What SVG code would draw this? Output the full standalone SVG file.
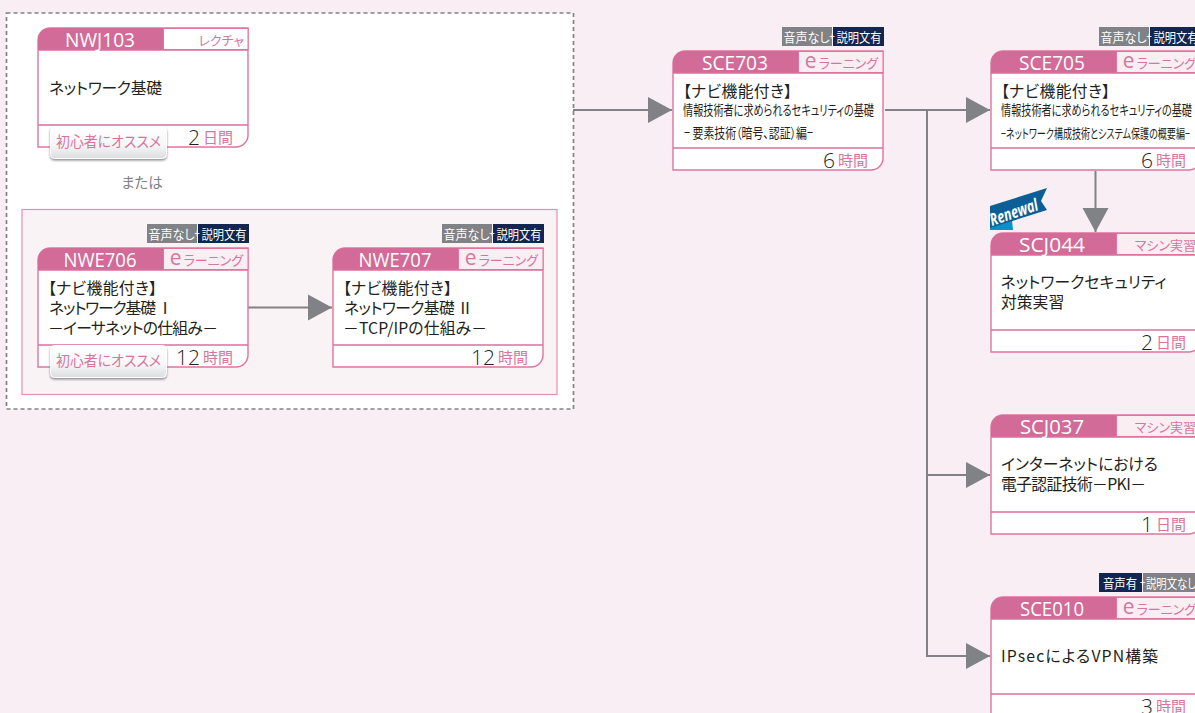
<svg xmlns="http://www.w3.org/2000/svg" width="1195" height="713" viewBox="0 0 1195 713">
<style>
text{font-family:"Noto Sans CJK JP","Noto Sans",sans-serif;font-feature-settings:"palt";font-weight:400}
.frame{fill:#fff;stroke:#e0749f;stroke-width:1.4}
.head{fill:#d26b97}
.ty{fill:#faeef3;stroke:#e0749f;stroke-width:1}
.ln{stroke:#de6f9e;stroke-width:1.3;fill:none}
.code{fill:#fff;font-size:20px;font-weight:400;text-anchor:middle;font-family:"Open Sans","Noto Sans",sans-serif}
.type{fill:#d9739f;font-size:13px;text-anchor:end}
.e{font-size:21px;font-weight:400;font-family:"Open Sans",sans-serif}
.b{fill:#231f20;font-size:15.800px}
.s{font-size:14px}
.h{fill:#d9739f;font-size:15px;text-anchor:end}
.n{fill:#231f20;font-size:21px;font-weight:300;text-anchor:end;font-family:"Open Sans",sans-serif}
.tg{fill:#808285}.td{fill:#12264f}
.tt{fill:#fff;font-size:13px;text-anchor:middle}
.pl{fill:#fff;font-size:10px;text-anchor:middle}
.conn{stroke:#808285;stroke-width:2;fill:none}
.bdg{fill:#d9739f;font-size:14.500px;text-anchor:middle}
</style>
<defs>
<marker id="ah" markerUnits="userSpaceOnUse" markerWidth="26" markerHeight="28" refX="25" refY="14" orient="auto"><path d="M1 1 L25 14 L1 27 Z" fill="#808285"/></marker>
<linearGradient id="bg" x1="0" y1="0" x2="0" y2="1"><stop offset="0" stop-color="#fff"/><stop offset=".6" stop-color="#f6f6f7"/><stop offset="1" stop-color="#dcdde0"/></linearGradient>
<filter id="sh" x="-10%" y="-10%" width="120%" height="130%"><feDropShadow dx="0" dy="1.500" stdDeviation=".8" flood-color="#77787b" flood-opacity=".85"/></filter>
<g id="frame">
<path class="frame" d="M0 119V12A12 12 0 0 1 12 0H210V107A12 12 0 0 1 198 119Z"/>
<path class="head" d="M0 22V12A12 12 0 0 1 12 0H125V22Z"/>
<path class="ln" d="M0 22H210M0 97H210"/>
</g>
<g id="badge"><rect x=".5" y=".5" width="116" height="32" rx="4" fill="url(#bg)" stroke="#fff" filter="url(#sh)"/><text class="bdg" x="58.500" y="21" textLength="105" lengthAdjust="spacingAndGlyphs">初心者にオススメ</text></g>
<g id="t1"><rect class="tg" x="0" y="0" width="50" height="19"/><rect class="td" x="51" y="0" width="51" height="19"/><text class="tt" x="24.500" y="14.500" textLength="46" lengthAdjust="spacingAndGlyphs">音声なし</text><text class="pl" x="50" y="13">+</text><text class="tt" x="77" y="14.500" textLength="45" lengthAdjust="spacingAndGlyphs">説明文有</text></g>
</defs>
<rect width="1195" height="713" fill="#f8eef3"/>
<rect x="6.500" y="13" width="567" height="396" fill="#fff" stroke="#808285" stroke-width="1.700" stroke-dasharray="4 3"/>
<rect x="22" y="209.500" width="535" height="185" fill="#faf3f6" stroke="#e48fb2" stroke-width="1.200"/>
<text x="142" y="188" text-anchor="middle" font-size="14.500" fill="#808285">または</text>

<g id="connectors">
<path class="conn" d="M573 110H672" marker-end="url(#ah)"/>
<path class="conn" d="M885 110H990" marker-end="url(#ah)"/>
<path class="conn" d="M927 110V656H990" marker-end="url(#ah)"/>
<path class="conn" d="M927 475H990" marker-end="url(#ah)"/>
<path class="conn" d="M1095.500 171V232" marker-end="url(#ah)"/>
<path class="conn" d="M248 307.500H332" marker-end="url(#ah)"/>
</g>

<g id="NWJ103" transform="translate(38 28)">
<use href="#frame"/><rect x="125.500" y=".5" width="84.500" height="21" fill="#fff" stroke="#e0749f"/>
<text class="code" x="62" y="18.500" textLength="70" lengthAdjust="spacingAndGlyphs">NWJ103</text><text class="type" x="206" y="17">レクチャ</text>
<text class="b" x="11" y="66" textLength="113">ネットワーク基礎</text>
<text class="n" x="162" y="117">2</text><text class="h" x="195" y="115">日間</text>
<use href="#badge" x="12" y="98"/>
</g>

<g id="NWE706" transform="translate(38 248)">
<use href="#frame"/><rect class="ty" x="125.500" y=".5" width="84.500" height="21"/>
<text class="code" x="62" y="18.500" textLength="73" lengthAdjust="spacingAndGlyphs">NWE706</text><text class="type" x="205" y="17"><tspan class="e">e</tspan><tspan dx="2">ラーニング</tspan></text>
<text class="b" x="10" y="46" textLength="109">【ナビ機能付き】</text><text class="b" x="11" y="66" textLength="124">ネットワーク基礎 Ⅰ</text><text class="b" x="10" y="86" textLength="170">－イーサネットの仕組み－</text>
<text class="n" x="162" y="117">12</text><text class="h" x="195" y="115">時間</text>
<use href="#badge" x="12" y="97"/>
<use href="#t1" x="109" y="-24"/>
</g>

<g id="NWE707" transform="translate(333 248)">
<use href="#frame"/><rect class="ty" x="125.500" y=".5" width="84.500" height="21"/>
<text class="code" x="62" y="18.500" textLength="73" lengthAdjust="spacingAndGlyphs">NWE707</text><text class="type" x="205" y="17"><tspan class="e">e</tspan><tspan dx="2">ラーニング</tspan></text>
<text class="b" x="10" y="46" textLength="109">【ナビ機能付き】</text><text class="b" x="11" y="66" textLength="129">ネットワーク基礎 Ⅱ</text><text class="b" x="10" y="86" textLength="144">－TCP/IPの仕組み－</text>
<text class="n" x="162" y="117">12</text><text class="h" x="195" y="115">時間</text>
<use href="#t1" x="109" y="-24"/>
</g>

<g id="SCE703" transform="translate(673 51)">
<use href="#frame"/><rect class="ty" x="125.500" y=".5" width="84.500" height="21"/>
<text class="code" x="62" y="18.500" textLength="66" lengthAdjust="spacingAndGlyphs">SCE703</text><text class="type" x="205" y="17"><tspan class="e">e</tspan><tspan dx="2">ラーニング</tspan></text>
<text class="b" x="10" y="46" textLength="109">【ナビ機能付き】</text>
<text class="b s" x="10" y="64" textLength="191" lengthAdjust="spacingAndGlyphs">情報技術者に求められるセキュリティの基礎</text>
<text class="b s" x="11" y="87" textLength="129" lengthAdjust="spacingAndGlyphs">− 要素技術（暗号、認証）編−</text>
<text class="n" x="162" y="117">6</text><text class="h" x="195" y="115">時間</text>
<use href="#t1" x="109" y="-24"/>
</g>

<g id="SCE705" transform="translate(991 51)">
<use href="#frame"/><rect class="ty" x="125.500" y=".5" width="84.500" height="21"/>
<text class="code" x="61" y="18.500" textLength="66" lengthAdjust="spacingAndGlyphs">SCE705</text><text class="type" x="205" y="17"><tspan class="e">e</tspan><tspan dx="2">ラーニング</tspan></text>
<text class="b" x="10" y="46" textLength="109">【ナビ機能付き】</text>
<text class="b s" x="10" y="64" textLength="191" lengthAdjust="spacingAndGlyphs">情報技術者に求められるセキュリティの基礎</text>
<text class="b" x="10" y="87" style="font-size:13px" textLength="189" lengthAdjust="spacingAndGlyphs">−ネットワーク構成技術とシステム保護の概要編−</text>
<text class="n" x="162" y="117">6</text><text class="h" x="195" y="115">時間</text>
<use href="#t1" x="108" y="-24"/>
</g>

<g id="SCJ044" transform="translate(991 233)">
<use href="#frame"/><rect class="ty" x="125.500" y=".5" width="84.500" height="21"/>
<text class="code" x="61" y="18.500" textLength="66" lengthAdjust="spacingAndGlyphs">SCJ044</text><text class="type" x="205" y="17">マシン実習</text>
<text class="b" x="9.500" y="55" textLength="166">ネットワークセキュリティ</text><text class="b" x="10" y="75">対策実習</text>
<text class="n" x="162" y="117">2</text><text class="h" x="195" y="115">日間</text>
</g>

<g id="Renewal">
<path d="M990 216L1012 220L1013 230H990Z" fill="#0f8fc9"/>
<path d="M990 206L1047 188L1041 201L1047 210L990 228Z" fill="#0b5f96"/>
<text x="0" y="0" transform="translate(992 226) rotate(-19)" fill="#fff" font-size="17" font-style="italic" textLength="50" lengthAdjust="spacingAndGlyphs" style="font-family:'Open Sans',sans-serif;font-weight:700">Renewal</text>
</g>

<g id="SCJ037" transform="translate(991 415)">
<use href="#frame"/><rect class="ty" x="125.500" y=".5" width="84.500" height="21"/>
<text class="code" x="61" y="18.500" textLength="64" lengthAdjust="spacingAndGlyphs">SCJ037</text><text class="type" x="205" y="17">マシン実習</text>
<text class="b" x="10" y="55" textLength="157">インターネットにおける</text><text class="b" x="10" y="75" textLength="145">電子認証技術－PKI－</text>
<text class="n" x="162" y="117">1</text><text class="h" x="195" y="115">日間</text>
</g>

<g id="SCE010" transform="translate(991 597)">
<use href="#frame"/><rect class="ty" x="125.500" y=".5" width="84.500" height="21"/>
<text class="code" x="61" y="18.500" textLength="64" lengthAdjust="spacingAndGlyphs">SCE010</text><text class="type" x="205" y="17"><tspan class="e">e</tspan><tspan dx="2">ラーニング</tspan></text>
<text class="b" x="10" y="65" textLength="157">IPsecによるVPN構築</text>
<text class="n" x="162" y="117">3</text><text class="h" x="195" y="115">時間</text>
<g transform="translate(108 -24)"><rect class="td" x="0" y="0" width="43" height="19"/><rect class="tg" x="44" y="0" width="60" height="19"/><text class="tt" x="21" y="14.500" textLength="34" lengthAdjust="spacingAndGlyphs">音声有</text><text class="pl" x="43.500" y="13">+</text><text class="tt" x="72" y="14.500" textLength="50" lengthAdjust="spacingAndGlyphs">説明文なし</text></g>
</g>
</svg>
